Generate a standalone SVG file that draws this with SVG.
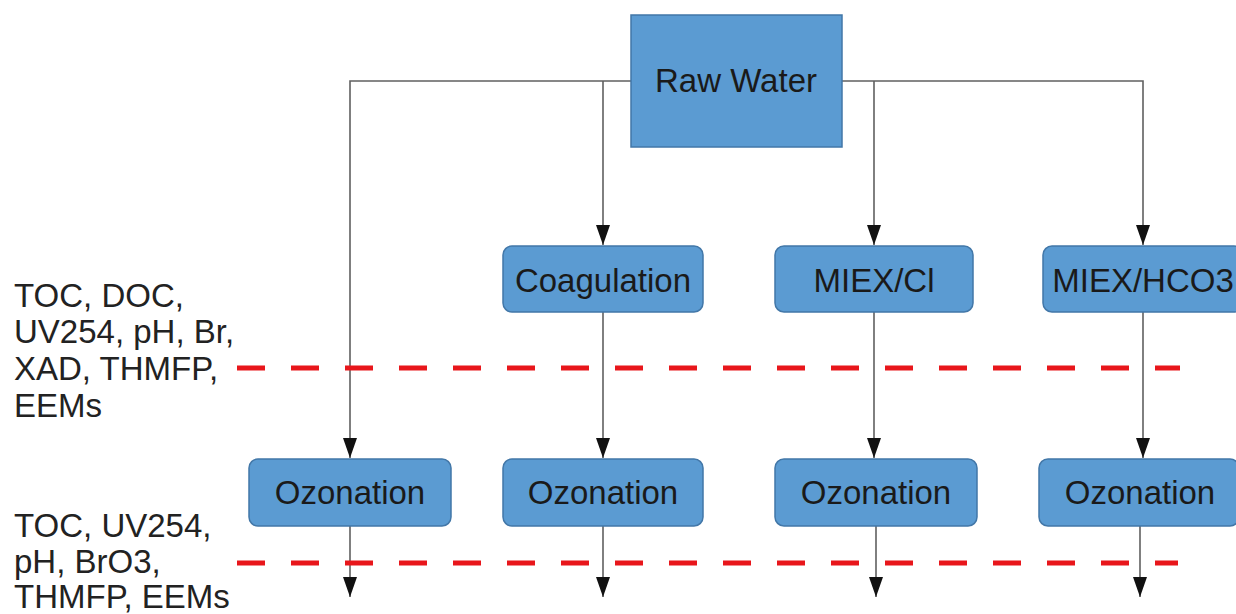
<svg xmlns="http://www.w3.org/2000/svg" width="1236" height="614" viewBox="0 0 1236 614">
<defs>
<style>
.box{fill:#5b9bd2;stroke:#4277a8;stroke-width:1.5}
.lbl{font-family:"Liberation Sans",Arial,sans-serif;font-size:33px;fill:#1a1a1a;text-anchor:middle}
.note{font-family:"Liberation Sans",Arial,sans-serif;font-size:33px;fill:#222}
.ln{fill:none;stroke:#606060;stroke-width:1.6}
.dash{fill:none;stroke:#e8161b;stroke-width:5;stroke-dasharray:28 26}
</style>
<marker id="ah" markerWidth="20" markerHeight="14" refX="20" refY="7" orient="auto" markerUnits="userSpaceOnUse" viewBox="0 0 20 14">
<path d="M0,0 L20,7 L0,14 Z" fill="#111"/>
</marker>
</defs>
<rect width="1236" height="614" fill="#ffffff"/>
<g id="connectors">
<path class="ln" d="M631,81 H350 V458" marker-end="url(#ah)"/>
<path class="ln" d="M603,81 V245" marker-end="url(#ah)"/>
<path class="ln" d="M842,81 H1143 V245" marker-end="url(#ah)"/>
<path class="ln" d="M874,81 V245" marker-end="url(#ah)"/>
<path class="ln" d="M603,312 V458" marker-end="url(#ah)"/>
<path class="ln" d="M874,312 V458" marker-end="url(#ah)"/>
<path class="ln" d="M1143,312 V458" marker-end="url(#ah)"/>
<path class="ln" d="M350,526 V597" marker-end="url(#ah)"/>
<path class="ln" d="M603,526 V597" marker-end="url(#ah)"/>
<path class="ln" d="M876,526 V597" marker-end="url(#ah)"/>
<path class="ln" d="M1140,526 V597" marker-end="url(#ah)"/>
</g>
<g id="measure-lines">
<path class="dash" d="M237,368 H1180"/>
<path class="dash" d="M237,563 H1178"/>
</g>
<g id="raw-water">
<rect class="box" x="631" y="15" width="211" height="132"/>
<text class="lbl" x="736" y="92">Raw Water</text>
</g>
<g id="coagulation">
<rect class="box" x="503" y="246" width="200" height="66" rx="9"/>
<text class="lbl" x="603" y="292">Coagulation</text>
</g>
<g id="miex-cl">
<rect class="box" x="775" y="246" width="198" height="66" rx="9"/>
<text class="lbl" x="874" y="292">MIEX/Cl</text>
</g>
<g id="miex-hco3">
<rect class="box" x="1043" y="246" width="200" height="66" rx="9"/>
<text class="lbl" x="1143" y="292">MIEX/HCO3</text>
</g>
<g id="ozonation-1">
<rect class="box" x="249" y="459" width="202" height="67" rx="9"/>
<text class="lbl" x="350" y="504">Ozonation</text>
</g>
<g id="ozonation-2">
<rect class="box" x="503" y="459" width="200" height="67" rx="9"/>
<text class="lbl" x="603" y="504">Ozonation</text>
</g>
<g id="ozonation-3">
<rect class="box" x="775" y="459" width="202" height="67" rx="9"/>
<text class="lbl" x="876" y="504">Ozonation</text>
</g>
<g id="ozonation-4">
<rect class="box" x="1039" y="459" width="200" height="67" rx="9"/>
<text class="lbl" x="1140" y="504">Ozonation</text>
</g>
<g id="notes-1">
<text class="note" x="14" y="307">TOC, DOC,</text>
<text class="note" x="14" y="343">UV254, pH, Br,</text>
<text class="note" x="14" y="380">XAD, THMFP,</text>
<text class="note" x="14" y="417">EEMs</text>
</g>
<g id="notes-2">
<text class="note" x="14" y="537">TOC, UV254,</text>
<text class="note" x="14" y="573">pH, BrO3,</text>
<text class="note" x="14" y="608">THMFP, EEMs</text>
</g>
</svg>
